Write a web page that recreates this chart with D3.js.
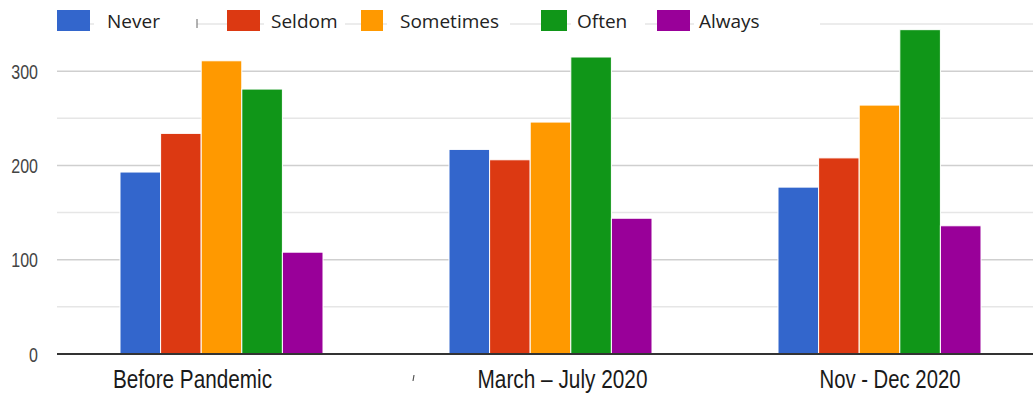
<!DOCTYPE html>
<html>
<head>
<meta charset="utf-8">
<script src="https://cdn.jsdelivr.net/npm/d3@7"></script>
<style>
  body { margin: 0; background: #fff; }
  svg { display: block; }
</style>
</head>
<body>
<div id="chart"></div>
<script>
const periods = ["Before Pandemic", "March \u2013 July 2020", "Nov - Dec 2020"];
const answers = ["Never", "Seldom", "Sometimes", "Often", "Always"];
const colors = ["#3366cc", "#dc3912", "#ff9900", "#109618", "#990099"];

const never = [193, 217, 177];
const seldom = [234, 206, 208];
const sometimes = [311, 246, 264];
const often = [281, 315, 344];
const always = [108, 144, 136];

const majorTicks = [0, 100, 200, 300];
const minorTicks = [50, 150, 250, 350];

const seriesValues = [never, seldom, sometimes, often, always];

const width = 1033;
const height = 395;

const svg = d3.select("#chart").append("svg")
    .attr("width", width)
    .attr("height", height);

// scales
const x = d3.scaleBand()
    .domain(periods)
    .range([57, 1044])
    .padding(0);

const xInner = d3.scaleBand()
    .domain(answers)
    .range([-101.5, 101.5])
    .padding(0);

const y = d3.scaleLinear()
    .domain([0, 350])
    .range([354, 24]);

// gridlines
svg.append("g").selectAll("line.minor")
    .data(minorTicks)
    .join("line")
    .attr("x1", 57).attr("x2", width)
    .attr("y1", d => y(d)).attr("y2", d => y(d))
    .attr("stroke", "#e6e6e6")
    .attr("stroke-width", 1.5);

svg.append("g").selectAll("line.major")
    .data(majorTicks.filter(d => d > 0))
    .join("line")
    .attr("x1", 57).attr("x2", width)
    .attr("y1", d => y(d)).attr("y2", d => y(d))
    .attr("stroke", "#cfcfcf")
    .attr("stroke-width", 1.5);

// y labels
const yAxis = d3.axisLeft(y).tickValues(majorTicks).tickSize(0).tickPadding(0);
const yG = svg.append("g")
    .attr("transform", "translate(38,0)")
    .call(yAxis);
yG.select(".domain").remove();
yG.selectAll("text")
    .attr("font-family", "'Liberation Sans', Arial, sans-serif")
    .attr("font-size", 20)
    .attr("fill", "#444")
    .attr("dy", "0.36em")
    .each(function () {
        const w = this.getComputedTextLength();
        d3.select(this).attr("textLength", w * 0.8).attr("lengthAdjust", "spacingAndGlyphs");
    });

// bars
const rows = [];
periods.forEach((p, i) => {
    answers.forEach((a, j) => {
        rows.push({ period: p, answer: a, value: seriesValues[j][i], color: colors[j] });
    });
});

svg.append("g").selectAll("rect")
    .data(rows)
    .join("rect")
    .attr("x", d => x(d.period) + x.bandwidth() / 2 + xInner(d.answer))
    .attr("y", d => y(d.value))
    .attr("width", xInner.bandwidth())
    .attr("height", d => y(0) - y(d.value))
    .attr("fill", d => d.color)
    .attr("stroke", "#fff")
    .attr("stroke-width", 1);

// baseline
svg.append("line")
    .attr("x1", 57).attr("x2", width)
    .attr("y1", y(0)).attr("y2", y(0))
    .attr("stroke", "#333")
    .attr("stroke-width", 2);

// x labels
const labelShift = [-29, 12, 10.5];
const labelWidth = [159, 170, 141];
svg.append("g").selectAll("text")
    .data(periods)
    .join("text")
    .attr("x", (d, i) => x(d) + x.bandwidth() / 2 + labelShift[i])
    .attr("y", 388)
    .attr("text-anchor", "middle")
    .attr("font-family", "'Liberation Sans', Arial, sans-serif")
    .attr("font-size", 26)
    .attr("fill", "#1a1a1a")
    .attr("textLength", (d, i) => labelWidth[i])
    .attr("lengthAdjust", "spacingAndGlyphs")
    .text(d => d);

// stray mark near axis
svg.append("line")
    .attr("x1", 414).attr("y1", 375).attr("x2", 413).attr("y2", 381)
    .attr("stroke", "#555").attr("stroke-width", 1.2);

// legend
const swatchX = [57, 227, 361, 541, 657];
const swatchW = [33, 33, 22, 26, 33];
const textX = [107, 271, 400, 577, 699];
const coverEnd = [197, 345, 510, 645, 820];

const legend = svg.append("g").selectAll("g")
    .data(answers)
    .join("g");

legend.append("rect")
    .attr("x", (d, i) => swatchX[i] + swatchW[i] + 4)
    .attr("y", 14)
    .attr("width", (d, i) => coverEnd[i] - swatchX[i] - swatchW[i] - 4)
    .attr("height", 20)
    .attr("fill", "#fff");

legend.append("rect")
    .attr("x", (d, i) => swatchX[i])
    .attr("y", 10)
    .attr("width", (d, i) => swatchW[i])
    .attr("height", 21)
    .attr("fill", (d, i) => colors[i]);

legend.append("text")
    .attr("x", (d, i) => textX[i])
    .attr("y", 28)
    .attr("font-family", "'Open Sans', sans-serif")
    .attr("font-size", 19)
    .attr("fill", "#222")
    .text(d => d);

svg.append("line")
    .attr("x1", 197).attr("x2", 197).attr("y1", 19).attr("y2", 28)
    .attr("stroke", "#666").attr("stroke-width", 1);
</script>
</body>
</html>
